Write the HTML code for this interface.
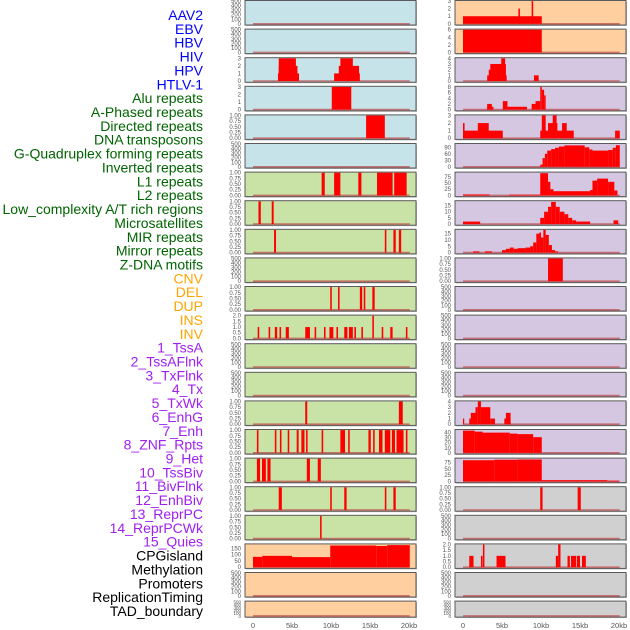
<!DOCTYPE html>
<html><head><meta charset="utf-8"><style>
html,body{margin:0;padding:0;background:#fff;}
svg{display:block;font-family:"Liberation Sans",sans-serif;}
</style></head><body>
<svg id="chart" width="630" height="630" viewBox="0 0 630 630" xmlns="http://www.w3.org/2000/svg"></svg>
<script>
const labelNames = ["AAV2","EBV","HBV","HIV","HPV","HTLV-1","Alu repeats","A-Phased repeats","Directed repeats","DNA transposons","G-Quadruplex forming repeats","Inverted repeats","L1 repeats","L2 repeats","Low_complexity A/T rich regions","Microsatellites","MIR repeats","Mirror repeats","Z-DNA motifs","CNV","DEL","DUP","INS","INV","1_TssA","2_TssAFlnk","3_TxFlnk","4_Tx","5_TxWk","6_EnhG","7_Enh","8_ZNF_Rpts","9_Het","10_TssBiv","11_BivFlnk","12_EnhBiv","13_ReprPC","14_ReprPCWk","15_Quies","CPGisland","Methylation","Promoters","ReplicationTiming","TAD_boundary"];
const labelGroups = [6,13,5,15,5];
const groupColors = ["#0000ff","#006400","#ffa500","#a020f0","#000000"];
const xTickLabels = ["0","5kb","10kb","15kb","20kb"];
const xTickValues = [0,5,10,15,20];
const T500 = ["0","100","200","300","400","500"];
const T1 = ["0.00","0.25","0.50","0.75","1.00"];
const leftTicks = [T500,T500,["0","1","2","3"],["0","1","2","3"],T1,T500,T1,T1,T1,T500,T1,["0.0","0.5","1.0","1.5","2.0"],T500,T500,T1,T1,T1,T1,T1,["0","50","100","150"],T500,T500];
const leftMax = [500,500,3,3,1,500,1,1,1,500,1,2,500,500,1,1,1,1,1,180,500,500];
const leftBars = [
 [],[],
 [[3.2,5.9,1],[3.3,5.7,2],[3.3,5.5,3],[10.4,13.7,1],[11.0,13.6,2],[11.2,12.8,3]],
 [[10.1,12.6,3]],
 [[14.5,16.9,1]],
 [],
 [[8.8,9.2,1],[10.4,11.2,1],[13.5,13.9,1],[15.9,17.9,1],[18.1,19.7,1]],
 [[0.7,1.0,1],[2.4,2.65,1]],
 [[2.7,2.95,1],[16.9,17.1,1],[18.0,18.3,1],[18.7,19.0,1]],
 [],
 [[9.9,10.1,1],[10.9,11.1,1],[13.7,14.0,1],[14.2,14.4,1],[15.3,15.6,1]],
 [[0.6,0.8,1],[2.0,2.2,1],[2.8,3.1,1],[3.4,3.6,1],[4.2,4.6,1],[6.7,7.3,1],[7.9,8.1,1],[9.1,9.3,1],[9.8,10.3,1],[10.7,10.9,1],[11.7,12.1,1],[12.3,12.8,1],[13.0,13.2,1],[13.9,14.1,1],[15.3,15.5,2],[16.5,16.7,1],[17.6,17.9,1],[19.6,19.8,1]],
 [],[],
 [[6.7,6.95,1],[18.7,19.2,1]],
 [[0.5,0.7,1],[2.8,3.0,1],[3.45,3.65,1],[4.45,4.65,1],[5.6,5.85,1],[6.2,6.6,1],[6.8,7.0,1],[8.8,9.0,1],[11.2,11.8,1],[12.2,12.4,1],[14.8,15.1,1],[15.4,15.6,1],[16.15,16.6,1],[16.9,17.6,1],[17.8,18.2,1],[18.4,19.3,1],[19.6,19.8,1]],
 [[0.5,0.9,1],[1.15,1.65,1],[1.85,2.25,1],[6.9,7.3,1],[8.3,8.7,1]],
 [[3.3,3.7,1],[9.9,10.1,1],[11.7,12.0,1],[16.9,17.1,1],[18.0,18.3,1]],
 [[8.6,8.8,1]],
 [[0,1.2,82],[1.2,5.0,90],[5.0,9.9,80],[9.9,15.8,172],[15.8,17.2,168],[17.2,20.1,175]],
 [],
 []
];
const rightTicks = [["0","1","2","3"],["0","2","4","6"],["0","1","2","3","4"],["0","2","4","6","8"],["0","1","2","3"],["0","30","60","90"],["0","25","50","75"],["0","5","10","15"],["0","5","10","15"],T1,T500,T500,T500,T500,["0","1","2","3","4"],["0","10","20","30","40"],["0","25","50","75"],T1,T500,["0.0","0.5","1.0","1.5","2.0"],T500,T500];
const rightMax = [3,6,4,8,3,105,92,18.5,18,1,500,500,500,500,4,45,90,1,500,2,500,500];
const rightBars = [
 [[0,10.1,1],[7.1,7.3,2],[8.8,9.0,3]],
 [[0,10.1,6]],
 [[3.1,5.6,1],[3.3,5.5,2],[3.5,5.5,3],[4.9,5.4,4],[9.1,9.7,1]],
 [[3.1,3.9,1],[3.1,3.7,2],[5.1,5.7,3],[5.7,8.2,1],[8.8,9.3,2],[9.3,9.9,3],[9.9,10.1,8],[10.1,10.4,7],[10.4,10.6,5]],
 [[0,5.1,1],[0,0.2,2],[1.9,3.3,2],[9.9,14.2,1],[10.1,10.6,3],[10.9,12.1,2],[11.5,12.0,3],[12.7,13.3,2],[19.5,20.1,1]],
 [[9.9,10.2,10],[10.2,10.5,40],[10.5,10.8,60],[10.8,11.3,75],[11.3,11.8,82],[11.8,12.3,88],[12.3,13,94],[13,15.6,99],[15.6,16.2,90],[16.2,16.6,80],[16.6,18.6,75],[18.6,19.2,78],[19.2,19.6,88],[19.6,20.1,100]],
 [[0,3.4,4],[5.9,9.9,3],[9.9,10.9,90],[10.9,11.2,55],[11.2,11.6,25],[11.6,16.3,17],[16.3,16.6,22],[16.6,17.2,60],[17.2,18.6,68],[18.6,19.4,55],[19.4,19.8,20]],
 [[0,2.2,2],[9.9,10.4,5],[10.4,10.9,10],[10.9,11.3,14],[11.3,11.9,18],[11.9,12.4,14],[12.4,13,10],[13,13.5,8],[13.5,14,5],[14,14.5,3],[14.5,16.3,2],[19.3,19.9,3]],
 [[1.3,2.1,1],[2.8,3.7,1],[5.0,5.5,2],[5.5,6.0,3],[6.0,6.5,4],[6.5,7.0,3],[7.0,8.0,3.5],[8.0,8.6,4],[8.6,9.0,5],[9.0,9.4,8],[9.4,9.8,15],[9.8,10.0,16],[10.0,10.3,12],[10.3,10.6,18],[10.6,11.0,14],[11.0,11.4,6],[11.4,11.8,2],[11.8,12.2,1]],
 [[10.9,12.8,1]],
 [],[],[],[],
 [[0,0.13,1],[0.8,1.8,1],[1.0,1.6,2],[1.6,1.9,3],[1.9,2.3,4],[2.3,3.5,3],[3.5,4.1,1],[5.3,6.1,1],[5.5,6.1,2]],
 [[0,1.5,44],[1.5,2.5,42],[2.5,6,40],[6,7,38],[7,9,37],[9,10.1,31]],
 [[0,4,84],[4,7,86],[7,10.1,87],[10.1,18.5,5],[18.5,20,3]],
 [[9.9,10.2,1],[14.7,15.1,1]],
 [],
 [[0.8,1.35,1],[2.3,2.5,1],[2.55,2.75,2],[4.3,5.45,1],[11.9,12.2,1],[12.2,12.5,2],[13.4,13.7,1],[13.85,14.5,1],[14.6,15.0,1],[15.25,15.75,1]],
 [],
 []
];
const NROWS = 22;
const B="#c6e3ea",G="#c9e2a6",O="#ffcf9f",P="#d5c6e2",Y="#d0d0d0";
const leftBg = [B,B,B,B,B,B,G,G,G,G,G,G,G,G,G,G,G,G,G,O,O,O];
const rightBg = [O,O,P,P,P,P,P,P,P,P,P,P,P,P,P,P,P,Y,Y,Y,Y,Y];

const svg = document.getElementById('chart');
const NS = "http://www.w3.org/2000/svg";
function mk(tag, attrs, parent){const e=document.createElementNS(NS,tag);for(const k in attrs)e.setAttribute(k,attrs[k]);(parent||svg).appendChild(e);return e;}

let li=0;
labelGroups.forEach((n,g)=>{for(let j=0;j<n;j++){
  const t=mk('text',{x:203,y:20+li*13.86,'text-anchor':'end','font-size':14,fill:groupColors[g]});
  
  
  t.textContent=labelNames[li];li++;}});

const cols=[{x0:245,w:171,z:253,bg:leftBg,ticks:leftTicks,max:leftMax,bars:leftBars,name:'left'},
            {x0:455,w:171,z:463,bg:rightBg,ticks:rightTicks,max:rightMax,bars:rightBars,name:'right'}];
const kb=7.8;
for(let r=0;r<NROWS;r++){
  const top=0.5+r*28.6, h=(r===NROWS-1?16:24.5);
  cols.forEach(c=>{
    const xs=v=>c.z+v*kb;
    const ys=v=>top+h-1.2-(v/c.max[r])*(h-1.8);
    const g=mk('g',{});
    
    
    mk('rect',{x:c.x0+1,y:top+1,width:c.w,height:h,fill:'#bbb'},g);
    mk('rect',{x:c.x0,y:top,width:c.w,height:h,fill:c.bg[r],stroke:'#5a5a5a','stroke-width':1},g);
    mk('line',{x1:xs(0),x2:xs(20.1),y1:top+h-1.2,y2:top+h-1.2,stroke:'rgba(190,70,70,0.7)','stroke-width':1.6},g);
    c.bars[r].forEach(b=>{
      const rc=mk('rect',{x:xs(b[0]),y:ys(b[2]),width:Math.max(1.2,xs(b[1])-xs(b[0])),height:ys(0)-ys(b[2]),fill:'#ff0000'},g);
      
      
    });
    c.ticks[r].forEach(lab=>{
      const v=parseFloat(lab);
      const t=mk('text',{x:c.x0-4,y:ys(v)+2,'text-anchor':'end','font-size':(r===NROWS-1?4.5:6),fill:'#555'},g);
      
      
      t.textContent=lab;
    });
  });
}
cols.forEach(c=>{
  xTickValues.forEach((v,i)=>{
    const t=mk('text',{x:c.z+v*kb,y:628,'text-anchor':'middle','font-size':7.5,fill:'#555'});
    
    
    t.textContent=xTickLabels[i];
  });
});
</script>
</body></html>
